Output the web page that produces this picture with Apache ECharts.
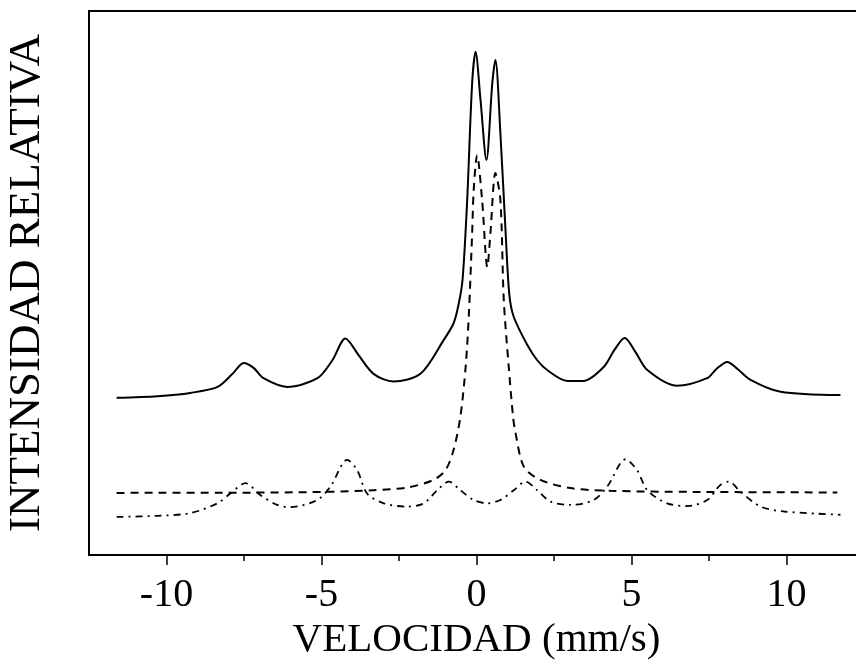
<!DOCTYPE html>
<html>
<head>
    <meta charset="utf-8">
    <script src="https://cdn.jsdelivr.net/npm/echarts@6/dist/echarts.min.js"></script>
    <style>
        body { margin: 0; background: #fff; }
        #main { width: 856px; height: 660px; }
    </style>
</head>

<body>
    <div id="main"></div>

    <script type="text/javascript">
        var myChart = echarts.init(document.getElementById('main'));

        var majorTicks = [-10, -5, 0, 5, 10];
        var minorTicks = [-7.5, -2.5, 2.5, 7.5];

        // total fit (solid)
        var totalV = [-11.61, -10.29, -9.23, -8.35, -7.87, -7.51, -7.19, -6.87, -6.10, -5.13, -4.65, -4.23, -3.81, -3.32, -2.68, -1.81, -1.06, -0.74, -0.58, -0.45, -0.30, -0.14, -0.03, 0.13, 0.32, 0.51, 0.61, 0.77, 0.94, 1.06, 1.20, 1.64, 1.96, 2.28, 2.93, 3.45, 4.11, 4.45, 4.78, 5.13, 5.51, 6.47, 7.44, 7.74, 8.09, 8.42, 8.84, 9.81, 11.74];
        var totalI = [28.9, 29.2, 29.8, 30.9, 33.3, 35.3, 34.4, 32.5, 30.9, 32.5, 35.8, 39.8, 36.8, 33.3, 31.9, 33.3, 39.5, 42.6, 46.0, 50.6, 65.3, 86.8, 92.5, 83.6, 72.6, 86.8, 91.0, 77.6, 59.2, 47.8, 43.8, 38.6, 35.8, 34.0, 32.0, 32.0, 34.6, 37.7, 39.9, 37.3, 34.0, 31.1, 32.5, 34.2, 35.5, 34.2, 32.2, 30.0, 29.4];

        // doublet (dashed)
        var dobleteV = [-11.61, -10.29, -8.16, -4.94, -3.32, -2.24, -1.39, -1.00, -0.74, -0.52, -0.35, -0.25, -0.14, -0.09, 0.02, 0.18, 0.35, 0.45, 0.61, 0.77, 0.88, 1.04, 1.18, 1.26, 1.53, 2.06, 3.03, 4.32, 7.00, 11.64];
        var dobleteI = [11.4, 11.45, 11.45, 11.6, 11.9, 12.4, 13.8, 15.6, 19.3, 25.4, 34.6, 43.8, 59.2, 67.1, 73.5, 65.3, 52.9, 59.2, 70.2, 65.3, 46.9, 34.6, 25.4, 22.4, 16.2, 13.8, 12.3, 11.8, 11.6, 11.5];

        // sextet (dash-dot)
        var sextetoV = [-11.61, -10.3, -9.23, -8.36, -7.94, -7.45, -6.97, -6.43, -6.0, -5.14, -4.71, -4.17, -3.85, -3.53, -2.99, -2.24, -1.70, -1.27, -0.89, -0.52, -0.09, 0.35, 0.77, 1.20, 1.58, 1.96, 2.39, 3.03, 3.78, 4.22, 4.81, 5.18, 5.51, 6.15, 6.80, 7.44, 7.87, 8.14, 8.52, 9.16, 9.91, 11.74];
        var sextetoI = [7.0, 7.2, 7.7, 9.5, 11.3, 13.2, 11.0, 9.2, 8.8, 10.1, 12.6, 17.5, 15.6, 11.3, 9.5, 8.9, 9.5, 11.9, 13.5, 11.9, 10.1, 9.5, 10.1, 11.9, 13.5, 11.9, 9.8, 9.2, 10.1, 12.6, 17.6, 15.6, 11.9, 9.5, 9.0, 10.1, 12.9, 13.5, 11.6, 8.9, 8.0, 7.4];

        function pairs(xs, ys) {
            return xs.map(function(x, i) { return [x, ys[i]]; });
        }

        var serif = 'Liberation Serif';

        myChart.setOption({
            animation: false,
            grid: {
                left: 89,
                top: 11,
                width: 775,
                height: 544,
                outerBoundsMode: 'none',
                show: true,
                borderColor: '#000',
                borderWidth: 2
            },
            xAxis: [{
                type: 'value',
                min: -12.5,
                max: 12.5,
                position: 'bottom',
                name: 'VELOCIDAD (mm/s)',
                nameLocation: 'middle',
                nameGap: 62,
                nameTextStyle: { fontFamily: serif, fontSize: 41, color: '#000' },
                axisLine: { show: true, onZero: false, lineStyle: { color: '#000', width: 2 } },
                axisTick: { show: true, customValues: majorTicks, length: 10, lineStyle: { color: '#000', width: 1.5 } },
                axisLabel: {
                    customValues: majorTicks,
                    margin: 20,
                    fontFamily: serif,
                    fontSize: 40,
                    color: '#000'
                },
                splitLine: { show: false }
            }, {
                type: 'value',
                min: -12.5,
                max: 12.5,
                position: 'bottom',
                axisLine: { show: false, onZero: false },
                axisTick: { show: true, customValues: minorTicks, length: 6, lineStyle: { color: '#000', width: 1.5 } },
                axisLabel: { show: false },
                splitLine: { show: false }
            }],
            yAxis: {
                type: 'value',
                min: 0,
                max: 100,
                name: 'INTENSIDAD RELATIVA',
                nameLocation: 'middle',
                nameGap: 39,
                nameTextStyle: { fontFamily: serif, fontSize: 45, color: '#000' },
                axisLine: { show: true, onZero: false, lineStyle: { color: '#000', width: 2 } },
                axisTick: { show: false },
                axisLabel: { show: false },
                splitLine: { show: false }
            },
            series: [{
                name: 'Total',
                type: 'line',
                showSymbol: false,
                smooth: 0.3,
                lineStyle: { color: '#000', width: 2 },
                data: pairs(totalV, totalI)
            }, {
                name: 'Doblete',
                type: 'line',
                showSymbol: false,
                smooth: 0.3,
                lineStyle: { color: '#000', width: 2, type: [8, 6] },
                data: pairs(dobleteV, dobleteI)
            }, {
                name: 'Sexteto',
                type: 'line',
                showSymbol: false,
                smooth: 0.3,
                lineStyle: { color: '#000', width: 1.8, type: [7, 5, 2, 5] },
                data: pairs(sextetoV, sextetoI)
            }]
        });
    </script>
</body>

</html>
